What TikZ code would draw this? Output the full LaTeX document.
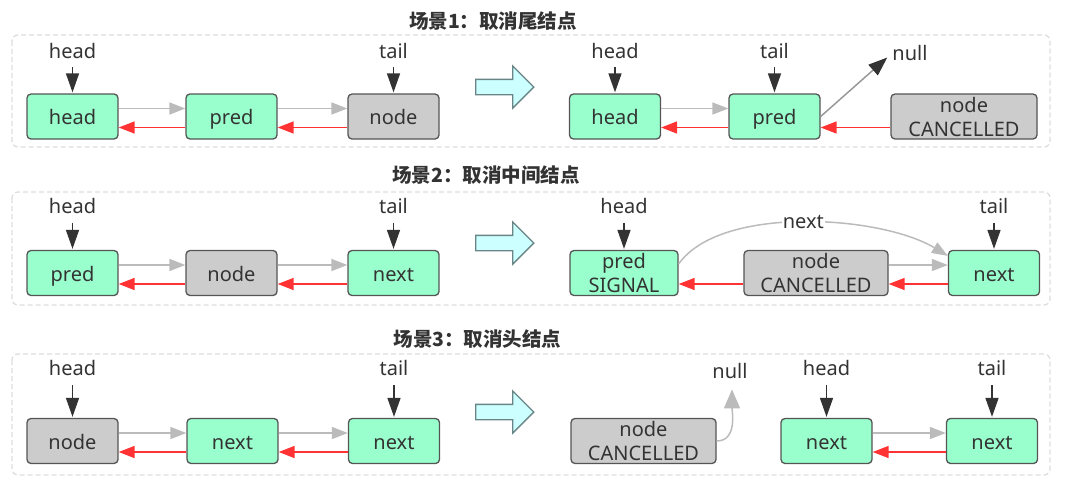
\documentclass[tikz,border=0pt]{standalone}
\usepackage{fontspec}
\setmainfont{Noto Sans}
\newfontfamily\cjk{Noto Sans CJK SC}
\usetikzlibrary{positioning,arrows.meta,shapes.arrows}
\definecolor{livegreen}{HTML}{99FFCC}
\definecolor{deadgray}{HTML}{CCCCCC}
\definecolor{edgegray}{HTML}{555555}
\definecolor{ink}{HTML}{333333}
\definecolor{nextgray}{HTML}{BBBBBB}
\definecolor{prevred}{HTML}{FF3333}
\definecolor{arrowcyan}{HTML}{CCFFFF}
\definecolor{arrowedge}{HTML}{6A8585}
\definecolor{framegray}{HTML}{DDDDDD}
\tikzset{
  qnode/.style={draw=edgegray,line width=1.3pt,rounded corners=4pt,
    minimum width=91pt,minimum height=45pt,inner xsep=3pt,inner ysep=1pt,
    align=center,text=ink,font=\fontsize{20}{24}\selectfont},
  oneline/.style={qnode,text height=16pt,text depth=0pt},
  live/.style={oneline,fill=livegreen},
  dead/.style={oneline,fill=deadgray},
  livetwo/.style={qnode,fill=livegreen},
  deadtwo/.style={qnode,fill=deadgray},
  lbl/.style={text=ink,font=\fontsize{20}{24}\selectfont,inner sep=1pt},
  ptr/.style={draw=ink,line width=1.5pt,-{Triangle[length=19pt,width=13pt]}},
  nxt/.style={draw=nextgray,line width=1.5pt,-{Triangle[length=16pt,width=12pt]}},
  prv/.style={draw=prevred,line width=1.5pt,-{Triangle[length=16pt,width=12pt]}},
  scenebox/.style={draw=framegray,line width=1.3pt,dash pattern=on 5pt off 3pt,rounded corners=6pt},
  scenetitle/.style={text=ink,inner sep=0pt,font=\cjk\bfseries\fontsize{19.5}{22}\selectfont},
  bigarrow/.style={shape=single arrow,draw=arrowedge,line width=1.3pt,fill=arrowcyan,
    minimum height=58pt,inner sep=7pt,single arrow head extend=13.5pt,
    single arrow head indent=0pt}
}
\begin{document}
\begin{tikzpicture}[x=1pt,y=-1pt]
\useasboundingbox (0,0) rectangle (1067,483);
% frames and big arrows
\foreach \t/\b in {35/147,192/305,354/475}
  \draw[scenebox] (12,\t) rectangle (1050,\b);
\foreach \y in {87,243,412}
  \node[bigarrow] (go\y) at (501,\y) {};
\node[scenetitle] (ti1) at (493,21.5) {场景1：取消尾结点};
\node[scenetitle] (ti2) at (486,175.5) {场景2：取消中间结点};
\node[scenetitle] (ti3) at (477.5,339) {场景3：取消头结点};

% scene 1
\node[live] (hd1) at (72.5,116.5) {head};
\node[live] (pr1) at (231.5,116.5) {pred};
\node[dead] (nd1) at (393.5,116.5) {node};
\node[live] (hd1b) at (615,116.5) {head};
\node[live] (pr1b) at (774.5,116.5) {pred};
\node[deadtwo,minimum width=146pt] (nc1b) at (964,116.5) {node\\CANCELLED};
\node[lbl,above=35pt of hd1,anchor=base] (lh1) {head};
\node[lbl,above=35pt of nd1,anchor=base] (lt1) {tail};
\node[lbl,above=35pt of hd1b,anchor=base] (lh1b) {head};
\node[lbl,above=35pt of pr1b,anchor=base] (lt1b) {tail};
\node[lbl,anchor=base] (null1) at (910,60) {null};

% scene 2
\node[live] (pd2) at (72.5,273) {pred};
\node[dead] (nd2) at (231.5,273) {node};
\node[live] (nx2) at (393.5,273) {next};
\node[livetwo,minimum width=108pt] (pd2b) at (624,273) {pred\\SIGNAL};
\node[deadtwo,minimum width=144pt] (nc2b) at (816,273) {node\\CANCELLED};
\node[live] (nx2b) at (994,273) {next};
\node[lbl,above=36pt of pd2,anchor=base] (lh2) {head};
\node[lbl,above=36pt of nx2,anchor=base] (lt2) {tail};
\node[lbl,above=36pt of pd2b,anchor=base] (lh2b) {head};
\node[lbl,above=36pt of nx2b,anchor=base] (lt2b) {tail};

% scene 3
\node[dead] (nd3) at (72.5,441) {node};
\node[live] (nx3) at (232.5,441) {next};
\node[live] (nt3) at (394,441) {next};
\node[deadtwo,minimum width=145pt] (nc3b) at (643.5,441) {node\\CANCELLED};
\node[live] (nx3b) at (826.5,441) {next};
\node[live] (nt3b) at (992,441) {next};
\node[lbl,above=42pt of nd3,anchor=base] (lh3) {head};
\node[lbl,above=42pt of nt3,anchor=base] (lt3) {tail};
\node[lbl,above=42pt of nx3b,anchor=base] (lh3b) {head};
\node[lbl,above=42pt of nt3b,anchor=base] (lt3b) {tail};
\node[lbl,anchor=base] (null3) at (730,378) {null};

% head / tail pointers
\foreach \l/\n in {lh1/hd1,lt1/nd1,lh1b/hd1b,lt1b/pr1b,lh2/pd2,lt2/nx2,lh2b/pd2b,lt2b/nx2b,
                   lh3/nd3,lt3/nt3,lh3b/nx3b,lt3b/nt3b}
  \draw[ptr] ([yshift=-9pt]\l.base) -- ([yshift=1pt]\n.north);

% next and prev links
\foreach \a/\b in {hd1/pr1,pr1/nd1,hd1b/pr1b,pd2/nd2,nd2/nx2,nc2b/nx2b,nd3/nx3,nx3/nt3,nx3b/nt3b}
  \draw[nxt] ([yshift=8pt]\a.east) -- ([yshift=8pt]\b.west);
\foreach \a/\b in {hd1/pr1,pr1/nd1,hd1b/pr1b,pr1b/nc1b,pd2/nd2,nd2/nx2,pd2b/nc2b,nc2b/nx2b,
                   nd3/nx3,nx3/nt3,nx3b/nt3b}
  \draw[prv] ([yshift=-11pt]\b.west) -- ([yshift=-11pt]\a.east);

% pointers that changed
\draw[draw=gray!80,line width=1.5pt,-{Triangle[length=19pt,width=14pt,color=ink]}]
  (pr1b.east) -- ([xshift=-4pt,yshift=-5pt]null1.west);
\draw[nxt] ([yshift=9pt]pd2b.east) .. controls (720,205) and (880,215) .. ([yshift=-6pt]nx2b.north west)
  node[pos=0.5,lbl,fill=white] (lk2) {next};
\draw[draw=nextgray,line width=1.5pt,-{Triangle[length=19pt,width=16pt]}]
  (nc3b.east) to[out=0,in=-90] ([xshift=2pt,yshift=-10pt]null3.south);
\end{tikzpicture}
\end{document}
